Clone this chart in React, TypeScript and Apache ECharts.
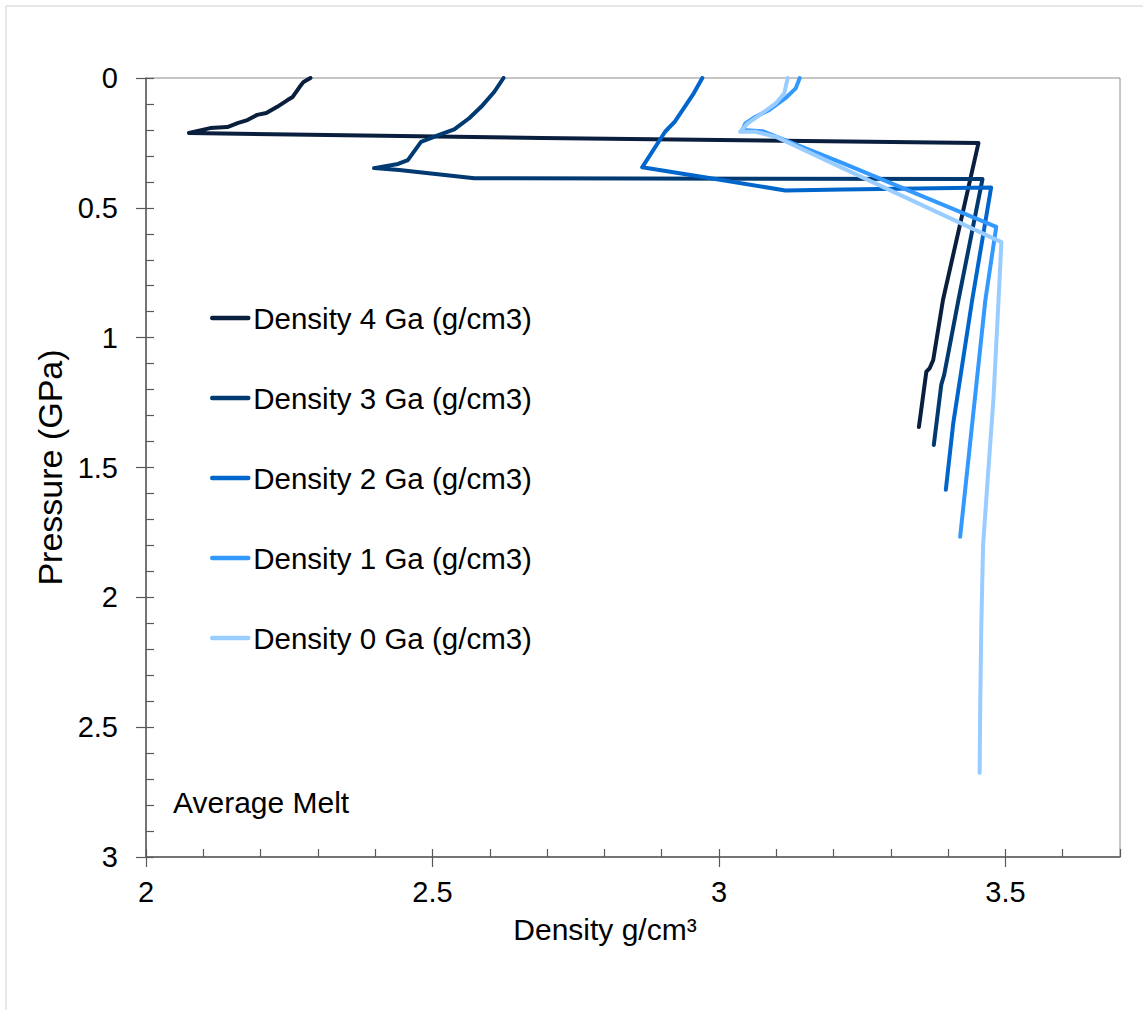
import React, { useEffect, useRef } from "react";
import * as echarts from "echarts";

const seriesNames = [
  "Density 4 Ga (g/cm3)",
  "Density 3 Ga (g/cm3)",
  "Density 2 Ga (g/cm3)",
  "Density 1 Ga (g/cm3)",
  "Density 0 Ga (g/cm3)",
];

const seriesColors = ["#0a1f3d", "#003a70", "#0066cc", "#3399ff", "#99ccff"];

// [density g/cm3, pressure GPa]
const density4Ga: [number, number][] = [
  [2.287, 0], [2.275, 0.015], [2.268, 0.035], [2.256, 0.073], [2.247, 0.085],
  [2.229, 0.111], [2.21, 0.135], [2.194, 0.142], [2.177, 0.162], [2.161, 0.173],
  [2.142, 0.189], [2.112, 0.193], [2.075, 0.212], [2.69, 0.231], [3.453, 0.25],
  [3.391, 0.855], [3.374, 1.086], [3.368, 1.117], [3.362, 1.131], [3.349, 1.344],
];

const density3Ga: [number, number][] = [
  [2.624, 0], [2.608, 0.053], [2.585, 0.111], [2.564, 0.155], [2.538, 0.198],
  [2.515, 0.216], [2.48, 0.246], [2.457, 0.316], [2.44, 0.331], [2.398, 0.347],
  [2.442, 0.354], [2.573, 0.386], [3.46, 0.389], [3.418, 0.855], [3.393, 1.144],
  [3.388, 1.182], [3.375, 1.413],
];

const density2Ga: [number, number][] = [
  [2.971, 0], [2.956, 0.059], [2.923, 0.168], [2.906, 0.207], [2.866, 0.344],
  [2.983, 0.385], [3.116, 0.433], [3.216, 0.429], [3.475, 0.422], [3.442, 0.855],
  [3.409, 1.329], [3.396, 1.586],
];

const density1Ga: [number, number][] = [
  [3.141, 0], [3.134, 0.04], [3.116, 0.078], [3.088, 0.123], [3.064, 0.149],
  [3.046, 0.175], [3.041, 0.2], [3.076, 0.205], [3.216, 0.328], [3.484, 0.573],
  [3.465, 0.855], [3.421, 1.767],
];

const density0Ga: [number, number][] = [
  [3.12, 0], [3.114, 0.059], [3.099, 0.098], [3.071, 0.143], [3.05, 0.175],
  [3.037, 0.207], [3.064, 0.207], [3.099, 0.226], [3.216, 0.347], [3.493, 0.632],
  [3.488, 0.855], [3.479, 1.24], [3.469, 1.548], [3.461, 1.8], [3.458, 2.1],
  [3.456, 2.42], [3.455, 2.676],
];

const seriesData = [density4Ga, density3Ga, density2Ga, density1Ga, density0Ga];

const xMin = 2;
const xMax = 3.7;
const yMin = 0;
const yMax = 3;

const FONT = "'Liberation Sans', Arial, Helvetica, sans-serif";

export default function App() {
  const ref = useRef<HTMLDivElement>(null);

  useEffect(() => {
    if (!ref.current) return;
    const chart = echarts.init(ref.current, undefined, { renderer: "svg" });
    const axisColor = "#595959";
    const option: any = {
      animation: false,
      backgroundColor: "#ffffff",
      textStyle: { fontFamily: FONT },
      grid: {
        left: 146,
        top: 78,
        right: 23,
        bottom: 153,
        show: true,
        borderColor: "#8c8c8c",
        borderWidth: 1,
        backgroundColor: "transparent",
      },
      legend: {
        orient: "vertical",
        left: 205,
        top: 298,
        itemWidth: 36,
        itemHeight: 14,
        itemGap: 50,
        data: seriesNames,
        itemStyle: { opacity: 0 },
        lineStyle: { width: 4.5, cap: "round" },
        textStyle: {
          fontFamily: FONT,
          fontSize: 29.5,
          color: "#000",
          lineHeight: 30,
        },
      },
      xAxis: [
        {
          type: "value",
          min: xMin,
          max: xMax,
          interval: 0.5,
          position: "bottom",
          name: "Density g/cm³",
          nameLocation: "middle",
          nameGap: 57,
          nameTextStyle: { fontFamily: FONT, fontSize: 30, color: "#000", padding: [0, 56, 0, 0] },
          axisLine: { show: true, onZero: false, lineStyle: { color: axisColor, width: 1.5 } },
          axisTick: { show: true, inside: false, length: 10, lineStyle: { color: axisColor, width: 1.2 } },
          axisLabel: {
            fontFamily: FONT,
            fontSize: 29,
            color: "#000",
            margin: 20,
            showMaxLabel: false,
          },
          splitLine: { show: false },
        },
        {
          type: "value",
          min: xMin,
          max: xMax,
          interval: 0.1,
          position: "bottom",
          axisLine: { show: false, onZero: false },
          axisTick: { show: true, inside: true, length: 8, lineStyle: { color: axisColor, width: 1.2 } },
          axisLabel: { show: false },
          splitLine: { show: false },
        },
      ],
      yAxis: [
        {
          type: "value",
          inverse: true,
          min: yMin,
          max: yMax,
          interval: 0.5,
          position: "left",
          name: "Pressure (GPa)",
          nameLocation: "middle",
          nameGap: 68,
          nameTextStyle: { fontFamily: FONT, fontSize: 34, color: "#000" },
          axisLine: { show: true, onZero: false, lineStyle: { color: axisColor, width: 1.5 } },
          axisTick: { show: true, inside: false, length: 10, lineStyle: { color: axisColor, width: 1.2 } },
          axisLabel: { fontFamily: FONT, fontSize: 29, color: "#000", margin: 28 },
          splitLine: { show: false },
        },
        {
          type: "value",
          inverse: true,
          min: yMin,
          max: yMax,
          interval: 0.1,
          position: "left",
          axisLine: { show: false, onZero: false },
          axisTick: { show: true, inside: true, length: 8, lineStyle: { color: axisColor, width: 1.2 } },
          axisLabel: { show: false },
          splitLine: { show: false },
        },
      ],
      graphic: [
        {
          type: "line",
          shape: { x1: 6, y1: 6, x2: 1143, y2: 6 },
          style: { stroke: "#d0d0d0", lineWidth: 1 },
          silent: true,
        },
        {
          type: "line",
          shape: { x1: 6, y1: 6, x2: 6, y2: 1010 },
          style: { stroke: "#d0d0d0", lineWidth: 1 },
          silent: true,
        },
        {
          type: "text",
          left: 173,
          top: 787,
          style: { text: "Average Melt", font: `30px ${FONT}`, fill: "#000" },
        },
      ],
      series: seriesData.map((d, i) => ({
        name: seriesNames[i],
        type: "line",
        xAxisIndex: 0,
        yAxisIndex: 0,
        data: d,
        showSymbol: false,
        symbol: "none",
        smooth: false,
        lineStyle: { color: seriesColors[i], width: 4, cap: "round", join: "round" },
        itemStyle: { color: seriesColors[i] },
        emphasis: { disabled: true },
      })),
    };
    chart.setOption(option);
    return () => chart.dispose();
  }, []);

  return (
    <div
      ref={ref}
      style={{ position: "fixed", left: 0, top: 0, width: 1143, height: 1010, background: "#fff" }}
    />
  );
}
